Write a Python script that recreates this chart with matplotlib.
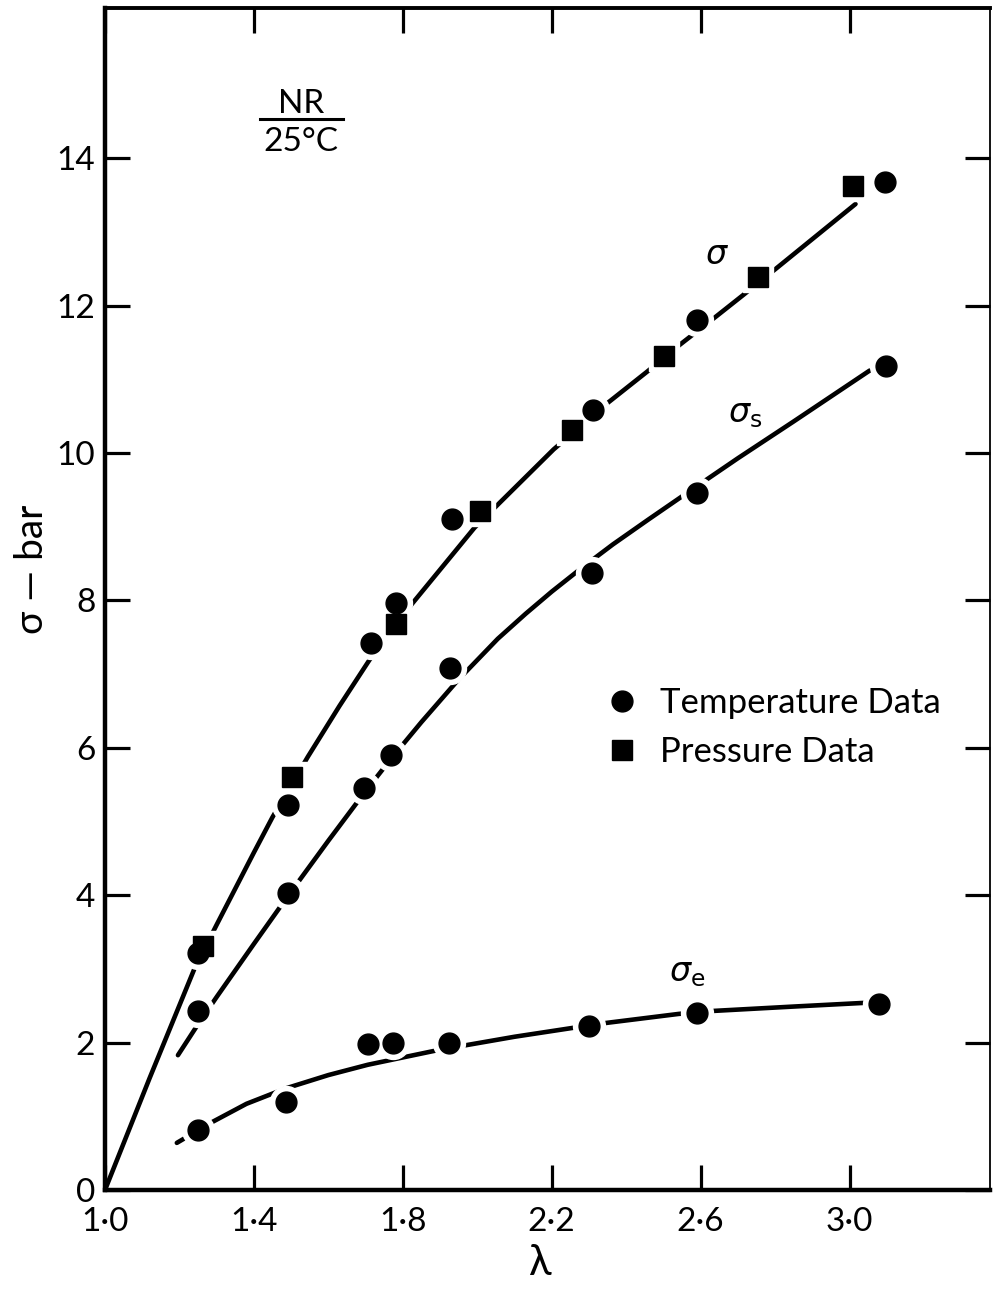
import matplotlib
import matplotlib.pyplot as plt
from matplotlib.lines import Line2D

matplotlib.use("Agg")
plt.rcParams["font.family"] = ["Lato", "DejaVu Sans"]
plt.rcParams["mathtext.fontset"] = "dejavusans"

# stretch ratio lambda for each measurement
lam_temp_sigma = [1.25, 1.491, 1.714, 1.781, 1.932, 2.31, 2.589, 3.094]
sig_temp_sigma = [3.22, 5.22, 7.43, 7.97, 9.11, 10.58, 11.81, 13.68]

lam_pres_sigma = [1.263, 1.502, 1.781, 2.007, 2.254, 2.501, 2.753, 3.008]
sig_pres_sigma = [3.31, 5.61, 7.68, 9.22, 10.31, 11.32, 12.39, 13.63]

lam_temp_s = [1.25, 1.491, 1.695, 1.768, 1.926, 2.307, 2.589, 3.099]
sig_temp_s = [2.43, 4.03, 5.46, 5.90, 7.09, 8.37, 9.46, 11.18]

lam_temp_e = [1.25, 1.486, 1.706, 1.773, 1.923, 2.30, 2.589, 3.078]
sig_temp_e = [0.81, 1.20, 1.98, 2.00, 2.00, 2.22, 2.40, 2.52]

# hand-drawn fitted curves (points along each curve)
lam_fit_sigma = [1.0, 1.12, 1.24, 1.30, 1.40, 1.45, 1.545, 1.63, 1.71, 1.824,
                 1.993, 2.055, 2.205, 2.35, 2.455, 2.544, 2.643, 2.713, 2.804, 3.016]
sig_fit_sigma = [0.0, 1.52, 3.00, 3.60, 4.58, 5.06, 5.88, 6.57, 7.19, 7.95,
                 8.99, 9.30, 10.05, 10.68, 11.10, 11.47, 11.86, 12.14, 12.51, 13.38]

lam_fit_s = [1.196, 1.25, 1.30, 1.40, 1.49, 1.60, 1.695, 1.768, 1.85, 1.95, 2.055,
             2.13, 2.20, 2.28, 2.364, 2.46, 2.552, 2.70, 2.85, 3.054]
sig_fit_s = [1.83, 2.25, 2.62, 3.34, 3.98, 4.74, 5.38, 5.85, 6.35, 6.93, 7.48,
             7.82, 8.12, 8.44, 8.76, 9.10, 9.42, 9.93, 10.43, 11.12]

lam_fit_e = [1.193, 1.287, 1.38, 1.486, 1.60, 1.706, 1.886, 1.975, 2.10, 2.256, 2.35,
             2.541, 2.632, 2.85, 3.04]
sig_fit_e = [0.64, 0.92, 1.17, 1.38, 1.56, 1.70, 1.89, 1.97, 2.08, 2.20, 2.27,
             2.39, 2.43, 2.49, 2.54]

x_ticks = [1.0, 1.4, 1.8, 2.2, 2.6, 3.0]
x_labels = ["1·0", "1·4", "1·8", "2·2", "2·6", "3·0"]
y_ticks = [0, 2, 4, 6, 8, 10, 12, 14]

fig = plt.figure(figsize=(9.95, 12.91), dpi=100)
ax = fig.add_axes([0.1055, 0.0782, 0.889, 0.9156])

lw = 3.3
for lx, ly in [(lam_fit_sigma, sig_fit_sigma), (lam_fit_s, sig_fit_s), (lam_fit_e, sig_fit_e)]:
    ax.plot(lx, ly, color="black", lw=lw, solid_capstyle="round",
            solid_joinstyle="round", zorder=2)

# white halos break the curves around the data points
for lx, ly, m in [(lam_temp_sigma, sig_temp_sigma, "o"), (lam_pres_sigma, sig_pres_sigma, "s"),
                  (lam_temp_s, sig_temp_s, "o"), (lam_temp_e, sig_temp_e, "o")]:
    ax.plot(lx, ly, ls="none", marker=m, ms=23 if m == "o" else 22,
            mfc="white", mec="white", zorder=3)

ax.plot(lam_temp_sigma, sig_temp_sigma, ls="none", marker="o", ms=15, color="black", zorder=4)
ax.plot(lam_pres_sigma, sig_pres_sigma, ls="none", marker="s", ms=15, color="black", zorder=4)
ax.plot(lam_temp_s, sig_temp_s, ls="none", marker="o", ms=15, color="black", zorder=4)
ax.plot(lam_temp_e, sig_temp_e, ls="none", marker="o", ms=15, color="black", zorder=4)

ax.set_xlim(1.0, 3.376)
ax.set_ylim(0, 16.04)
ax.set_xticks(x_ticks)
ax.set_xticklabels(x_labels)
ax.set_yticks(y_ticks)
ax.tick_params(direction="in", length=18, width=2.3, labelsize=24,
               top=True, right=True)
ax.tick_params(axis="x", pad=12)
ax.tick_params(axis="y", pad=7)

for side, w in [("left", 3.2), ("bottom", 3.2), ("top", 2.8), ("right", 1.3)]:
    ax.spines[side].set_linewidth(w)

ax.set_xlabel("λ", fontsize=30)
ax.xaxis.set_label_coords(0.4915, -0.046)
ax.set_ylabel("σ — bar", fontsize=28)
ax.yaxis.set_label_coords(-0.062, 0.525)

# curve labels
ax.text(2.643, 12.69, r"$\sigma$", fontsize=24, ha="center", va="center")
ax.text(2.72, 10.52, r"$\sigma_\mathrm{s}$", fontsize=24, ha="center", va="center")
ax.text(2.565, 2.93, r"$\sigma_\mathrm{e}$", fontsize=24, ha="center", va="center")

# sample / temperature note
ax.text(0.222, 0.911, "NR", transform=ax.transAxes, fontsize=24, ha="center", va="baseline")
ax.add_line(Line2D([0.175, 0.269], [0.906, 0.906], transform=ax.transAxes,
                   color="black", lw=2.2))
ax.text(0.222, 0.879, "25°C", transform=ax.transAxes, fontsize=24, ha="center", va="baseline")

handles = [
    Line2D([], [], ls="none", marker="o", ms=15, color="black", label="Temperature Data"),
    Line2D([], [], ls="none", marker="s", ms=15, color="black", label="Pressure Data"),
]
ax.legend(handles=handles, loc="upper left", bbox_to_anchor=(0.549, 0.437),
          frameon=False, fontsize=25, handlelength=1.0, handletextpad=0.6,
          labelspacing=0.48, borderaxespad=0)

fig.savefig("out.png", dpi=100)
